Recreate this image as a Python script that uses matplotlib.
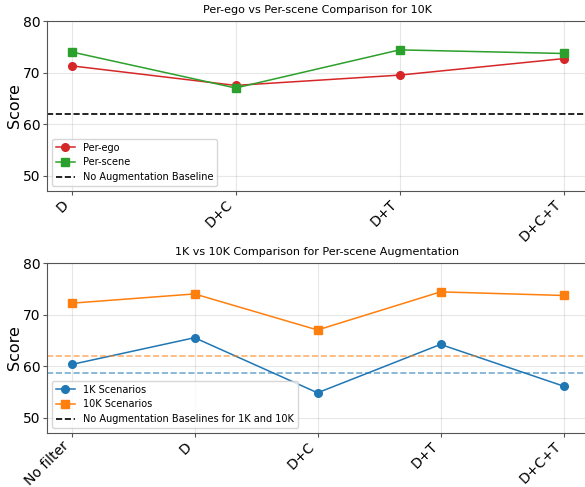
import matplotlib.pyplot as plt
from matplotlib.lines import Line2D

# top panel: per-ego vs per-scene (10K)
aug_top = ['D', 'D+C', 'D+T', 'D+C+T']
per_ego = [71.3, 67.5, 69.5, 72.7]
per_scene = [74.0, 67.0, 74.4, 73.7]
baseline_10k = 62.0

# bottom panel: 1K vs 10K (per-scene)
aug_bottom = ['No filter', 'D', 'D+C', 'D+T', 'D+C+T']
scen_1k = [60.3, 65.5, 54.8, 64.2, 56.1]
scen_10k = [72.2, 74.0, 67.0, 74.4, 73.7]
baseline_1k = 58.6

fig = plt.figure(figsize=(5.85, 4.87), dpi=100)
ax1 = fig.add_axes([0.0803, 0.6078, 0.925, 0.349])
ax2 = fig.add_axes([0.0803, 0.1109, 0.925, 0.349])

ms = 5.5
lw = 1.1

x1 = range(len(aug_top))
ax1.plot(x1, per_ego, marker='o', color='tab:red', label='Per-ego', markersize=ms, linewidth=lw)
ax1.plot(x1, per_scene, marker='s', color='tab:green', label='Per-scene', markersize=ms, linewidth=lw)
ax1.axhline(baseline_10k, color='black', linestyle='--', linewidth=1.2, label='No Augmentation Baseline')
ax1.set_title('Per-ego vs Per-scene Comparison for 10K', fontsize=8)
ax1.set_xticks(list(x1))
ax1.set_xticklabels(aug_top, rotation=45, ha='right')

x2 = range(len(aug_bottom))
ax2.plot(x2, scen_1k, marker='o', color='tab:blue', label='1K Scenarios', markersize=ms, linewidth=lw)
ax2.plot(x2, scen_10k, marker='s', color='tab:orange', label='10K Scenarios', markersize=ms, linewidth=lw)
ax2.axhline(baseline_10k, color='tab:orange', linestyle='--', linewidth=1.2, alpha=0.6)
ax2.axhline(baseline_1k, color='tab:blue', linestyle='--', linewidth=1.2, alpha=0.6)
ax2.set_title('1K vs 10K Comparison for Per-scene Augmentation', fontsize=8)
ax2.set_xticks(list(x2))
ax2.set_xticklabels(aug_bottom, rotation=45, ha='right')

handles, labels = ax2.get_legend_handles_labels()
handles.append(Line2D([0], [0], color='black', linestyle='--', linewidth=1.2))
labels.append('No Augmentation Baselines for 1K and 10K')

for ax in (ax1, ax2):
    ax.set_ylim(47, 80)
    ax.set_yticks([50, 60, 70, 80])
    ax.set_ylabel('Score', fontsize=11.5, labelpad=1)
    ax.tick_params(labelsize=10, length=3, pad=1.5, width=0.8, color='#555555')
    ax.grid(True, alpha=0.3)
    for s in ax.spines.values():
        s.set_color('#555555')

ax1.legend(loc='lower left', fontsize=7)
ax2.legend(handles, labels, loc='lower left', fontsize=7)

fig.savefig('out.png', dpi=100)
